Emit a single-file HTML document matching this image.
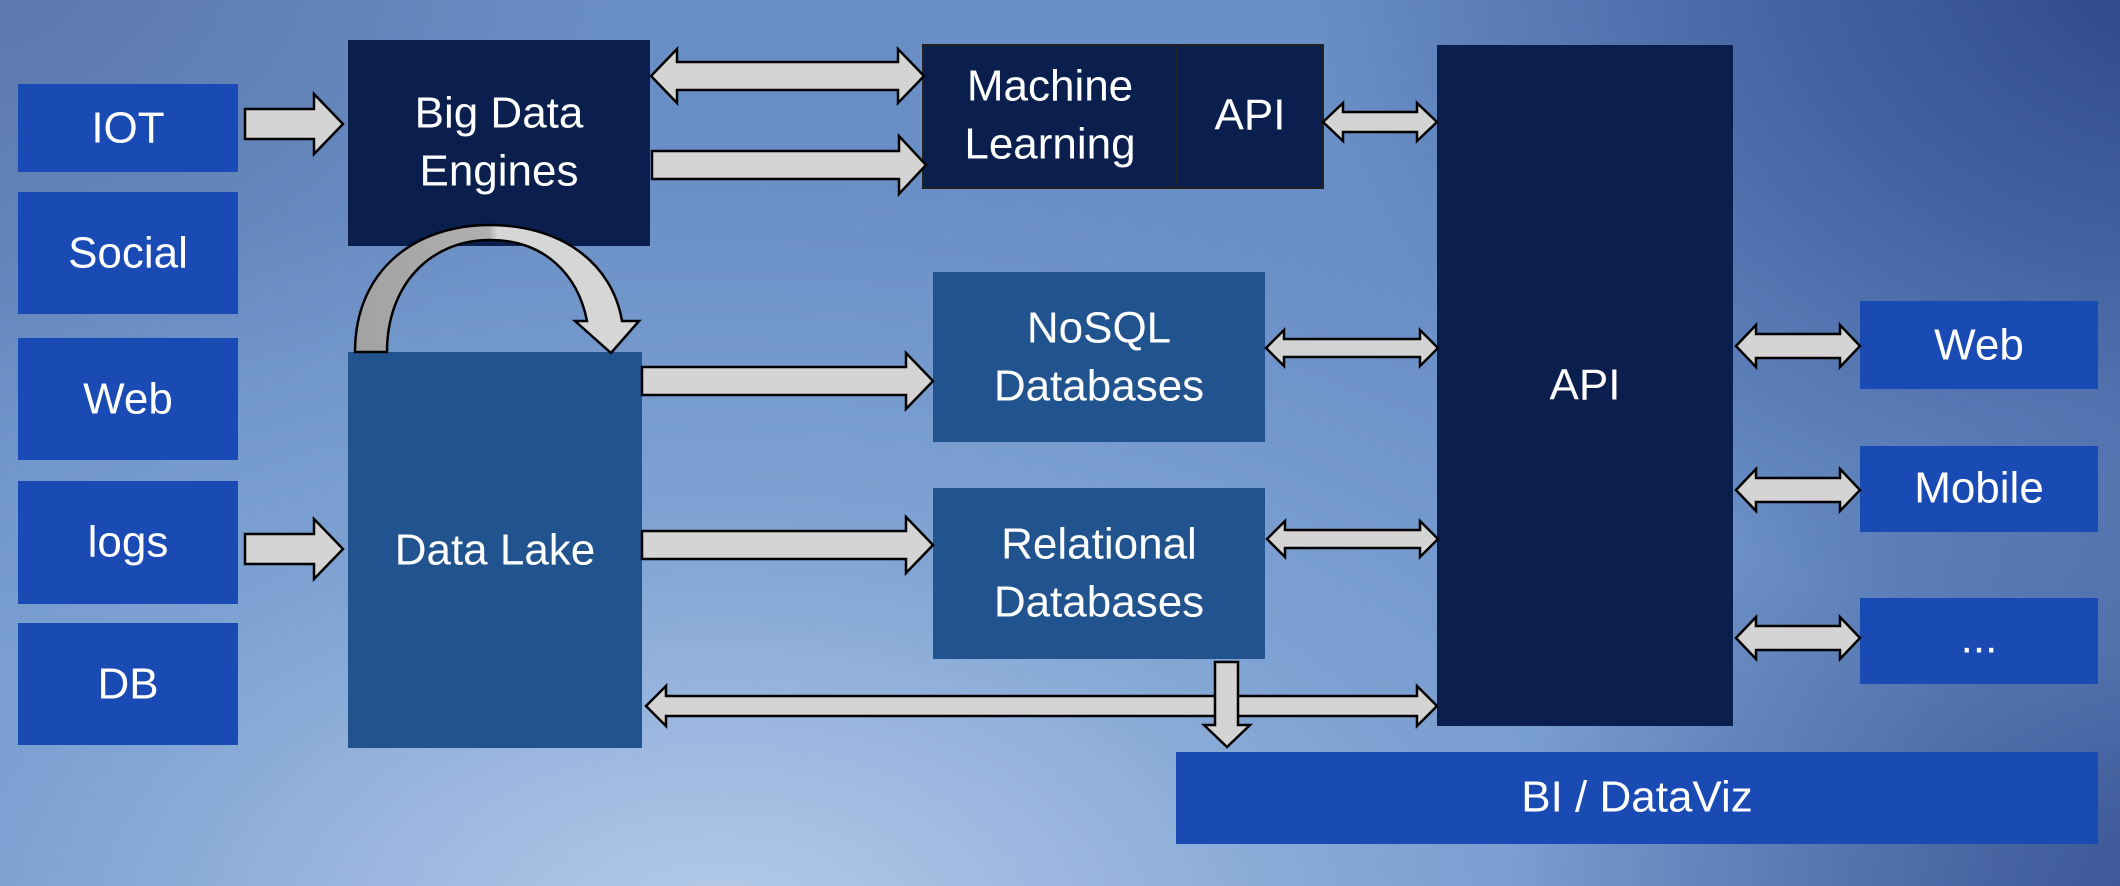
<!DOCTYPE html>
<html><head><meta charset="utf-8"><style>
html,body{margin:0;padding:0;width:2120px;height:886px;overflow:hidden}
body{background:
radial-gradient(ellipse 900px 700px at 2200px -50px,#2a4488 0%,rgba(42,68,136,0.6) 45%,rgba(42,68,136,0) 100%),
radial-gradient(ellipse 700px 500px at 2200px 900px,rgba(50,75,140,0.9) 0%,rgba(50,75,140,0) 100%),
radial-gradient(ellipse 1300px 750px at 720px 930px,#b6cce8 0%,#98b5de 30%,#7ea2d2 55%,rgba(110,147,200,0) 100%),
radial-gradient(ellipse 700px 500px at -50px -50px,#5a75a8 0%,rgba(90,117,168,0) 100%),
#6a8fc6}
svg{position:absolute;left:0;top:0}
text{font-family:"Liberation Sans",sans-serif;fill:#fff;font-size:44px;text-anchor:middle;dominant-baseline:central}
</style></head><body>
<svg width="2120" height="886" viewBox="0 0 2120 886">
<defs>
<linearGradient id="cg" x1="355" y1="0" x2="640" y2="0" gradientUnits="userSpaceOnUse">
<stop offset="0" stop-color="#a2a2a2"/><stop offset="0.47" stop-color="#b0b0b0"/><stop offset="0.5" stop-color="#d6d6d6"/><stop offset="1" stop-color="#d6d6d6"/></linearGradient>
</defs>
<g fill="#1a4bb4">
<rect x="18" y="84" width="220" height="88"/>
<rect x="18" y="192" width="220" height="122"/>
<rect x="18" y="338" width="220" height="122"/>
<rect x="18" y="481" width="220" height="123"/>
<rect x="18" y="623" width="220" height="122"/>
<rect x="1860" y="301" width="238" height="88"/>
<rect x="1860" y="446" width="238" height="86"/>
<rect x="1860" y="598" width="238" height="86"/>
<rect x="1176" y="752" width="922" height="92"/>
</g>
<g fill="#0a1f4d">
<rect x="348" y="40" width="302" height="206"/>
<rect x="923" y="45" width="400" height="143" stroke="#222" stroke-width="2"/>
<rect x="1437" y="45" width="296" height="681"/>
</g>
<line x1="1177" y1="45" x2="1177" y2="188" stroke="#222" stroke-width="2"/>
<g fill="#21548f">
<rect x="348" y="352" width="294" height="396"/>
<rect x="933" y="272" width="332" height="170"/>
<rect x="933" y="488" width="332" height="171"/>
</g>
<g fill="#d4d4d4" stroke="#000" stroke-width="2.5" stroke-linejoin="miter">
<path d="M245,109 H314 V94 L343,124 L314,154 V139 H245 Z"/>
<path d="M245,534 H314 V519 L343,549 L314,579 V564 H245 Z"/>
<path d="M651,76 L677,49 V62 H898 V49 L924,76 L898,103 V90 H677 V103 Z"/>
<path d="M652,151 H899 V136 L926,165 L899,194 V179 H652 Z"/>
<path d="M642,367 H906 V353 L933,381 L906,409 V395 H642 Z"/>
<path d="M642,531 H906 V517 L933,545 L906,573 V559 H642 Z"/>
<path d="M1323,122 L1343,103 V112 H1417 V103 L1437,122 L1417,141 V132 H1343 V141 Z"/>
<path d="M1266,348 L1284,330 V339 H1420 V330 L1438,348 L1420,366 V357 H1284 V366 Z"/>
<path d="M1267,539 L1285,521 V530 H1420 V521 L1438,539 L1420,557 V548 H1285 V557 Z"/>
<path d="M646,706 L666,686 V696 H1417 V686 L1437,706 L1417,726 V716 H666 V726 Z"/>
<path d="M1736,346 L1756,325 V334 H1840 V325 L1860,346 L1840,367 V358 H1756 V367 Z"/>
<path d="M1736,490 L1756,469 V478 H1840 V469 L1860,490 L1840,511 V502 H1756 V511 Z"/>
<path d="M1736,638 L1756,617 V626 H1840 V617 L1860,638 L1840,659 V650 H1756 V659 Z"/>
</g>
<path d="M1215,662 H1238 V725 H1250 L1227,747 L1204,725 H1215 Z" fill="#d4d4d4" stroke="#000" stroke-width="2.5"/>
<path d="M355,352 C355,270 415,225 490,225 C560,225 612,262 622,321 L639,321 L611,353 L575,321 L587,321 C578,275 545,240 490,240 C430,240 387,285 387,352 Z" fill="url(#cg)" stroke="#000" stroke-width="2.5"/>
<text x="128" y="128">IOT</text>
<text x="128" y="253">Social</text>
<text x="128" y="399">Web</text>
<text x="128" y="542">logs</text>
<text x="128" y="684">DB</text>
<text x="499" y="113">Big Data</text>
<text x="499" y="171">Engines</text>
<text x="1050" y="86">Machine</text>
<text x="1050" y="144">Learning</text>
<text x="1250" y="115">API</text>
<text x="1099" y="328">NoSQL</text>
<text x="1099" y="386">Databases</text>
<text x="1099" y="544">Relational</text>
<text x="1099" y="602">Databases</text>
<text x="495" y="550">Data Lake</text>
<text x="1585" y="385">API</text>
<text x="1979" y="345">Web</text>
<text x="1979" y="488">Mobile</text>
<text x="1979" y="638">...</text>
<text x="1637" y="797">BI / DataViz</text>
</svg>
</body></html>
